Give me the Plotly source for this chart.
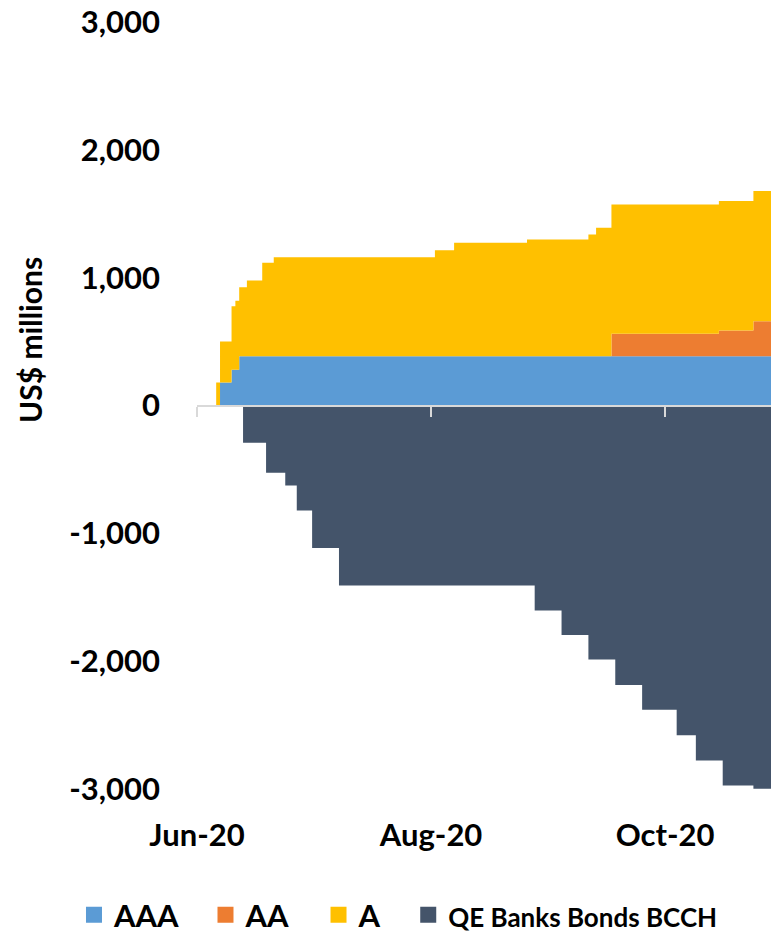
import plotly.graph_objects as go

# step dates (each value holds until the next date)
DATES = [
    "2020-06-06", "2020-06-07", "2020-06-10", "2020-06-11", "2020-06-12",
    "2020-06-13", "2020-06-14", "2020-06-18", "2020-06-19", "2020-06-21",
    "2020-06-24", "2020-06-27", "2020-07-01", "2020-07-08", "2020-08-02",
    "2020-08-07", "2020-08-26", "2020-08-28", "2020-09-04", "2020-09-11",
    "2020-09-13", "2020-09-17", "2020-09-18", "2020-09-25", "2020-10-04",
    "2020-10-09", "2020-10-15", "2020-10-16", "2020-10-24", "2020-10-29",
]
AAA = [0, 180, 280, 280, 386, 386, 386, 386, 386, 386,
       386, 386, 386, 386, 386, 386, 386, 386, 386, 386,
       386, 386, 386, 386, 386, 386, 386, 386, 386, 386]
AA = [0, 0, 0, 0, 0, 0, 0, 0, 0, 0,
      0, 0, 0, 0, 0, 0, 0, 0, 0, 0,
      0, 175, 175, 175, 175, 175, 201, 201, 274, 274]
A = [180, 320, 497, 540, 539, 539, 592, 731, 731, 774,
     774, 774, 774, 774, 829, 887, 913, 913, 913, 952,
     1004, 1012, 1012, 1012, 1012, 1012, 1012, 1012, 1017, 1017]
QE = [0, 0, 0, 0, 0, -292, -292, -292, -527, -527,
      -626, -822, -1114, -1408, -1408, -1408, -1408, -1604, -1795, -1987,
      -1987, -1987, -2186, -2381, -2579, -2778, -2778, -2973, -2999, -2999]

Y_TICKS = [-3000, -2000, -1000, 0, 1000, 2000, 3000]
Y_TEXT = ["-3,000", "-2,000", "-1,000", "0", "1,000", "2,000", "3,000"]

X_RANGE = ["2020-06-01", "2020-10-28 14:00"]

COLS = {"AAA": "#5B9BD5", "AA": "#ED7D31", "A": "#FFC000", "QE": "#44546A"}
FONT = "Lato"

fig = go.Figure()

for name, vals in [("AAA", AAA), ("AA", AA), ("A", A)]:
    fig.add_trace(
        go.Scatter(
            x=DATES, y=vals, mode="lines", stackgroup="pos",
            line=dict(width=0, shape="hv"), fillcolor=COLS[name],
            showlegend=False, name=name,
        )
    )
fig.add_trace(
    go.Scatter(
        x=DATES, y=QE, mode="lines", fill="tozeroy",
        line=dict(width=0, shape="hv"), fillcolor=COLS["QE"],
        showlegend=False, name="QE Banks Bonds BCCH",
    )
)
# carrier so the zero-line axis gets drawn
fig.add_trace(go.Scatter(x=[None], y=[None], xaxis="x2", showlegend=False))

# legend entries as square markers, one legend box each
legend_items = [
    ("AAA", "AAA", "legend", -0.2143),
    ("AA", "AA", "legend2", 0.0148),
    ("A", "A", "legend3", 0.2117),
    ("QE", '<span style="font-size:26px">QE Banks Bonds BCCH</span>', "legend4", 0.368),
]
legend_boxes = {}
for key, label, lg, lx in legend_items:
    fig.add_trace(
        go.Scatter(
            x=[None], y=[None], mode="markers", name=label, legend=lg,
            marker=dict(symbol="square", size=21, color=COLS[key]),
        )
    )
    legend_boxes[lg] = dict(
        orientation="h", x=lx, xanchor="left", y=-0.1645, yanchor="middle",
        font=dict(family=FONT, size=31, weight="bold"),
        bgcolor="rgba(0,0,0,0)", itemclick=False,
    )

fig.update_layout(
    width=771, height=933,
    margin=dict(l=197, r=0, t=22, b=144, autoexpand=False),
    plot_bgcolor="white", paper_bgcolor="white",
    font=dict(family=FONT, color="black", size=31),
    xaxis=dict(
        type="date", range=X_RANGE, tick0="2020-06-01", dtick="M2",
        tickformat="%b-%y", showgrid=False, zeroline=False, showline=False,
        ticks="", ticklabelstandoff=25,
        tickfont=dict(family=FONT, size=31, weight="bold"),
    ),
    xaxis2=dict(
        type="date", range=X_RANGE, tick0="2020-06-01", dtick="M2",
        overlaying="x", anchor="free", position=0.5,
        showline=True, linecolor="#D9D9D9", linewidth=2,
        ticks="outside", ticklen=10, tickwidth=2, tickcolor="#D9D9D9",
        showticklabels=False, showgrid=False, zeroline=False,
    ),
    yaxis=dict(
        range=[-3000, 3000], tickvals=Y_TICKS, ticktext=Y_TEXT,
        showgrid=False, zeroline=False, showline=False, ticks="",
        ticklabelstandoff=36, ticklabeloverflow="allow",
        tickfont=dict(family=FONT, size=31, weight="bold"),
    ),
    annotations=[
        dict(
            text="<b>US$ millions</b>", textangle=-90,
            xref="paper", yref="paper", x=-0.291, y=0.5854,
            xanchor="center", yanchor="middle",
            showarrow=False, font=dict(family=FONT, size=30, color="black"),
        )
    ],
    **legend_boxes,
)

# drop the browser's default body margin so the figure fills the window
fig.write_html(
    "out.html",
    config={"displayModeBar": False},
    post_script="document.body.style.margin='0';"
    "document.documentElement.style.overflow='hidden';",
)
